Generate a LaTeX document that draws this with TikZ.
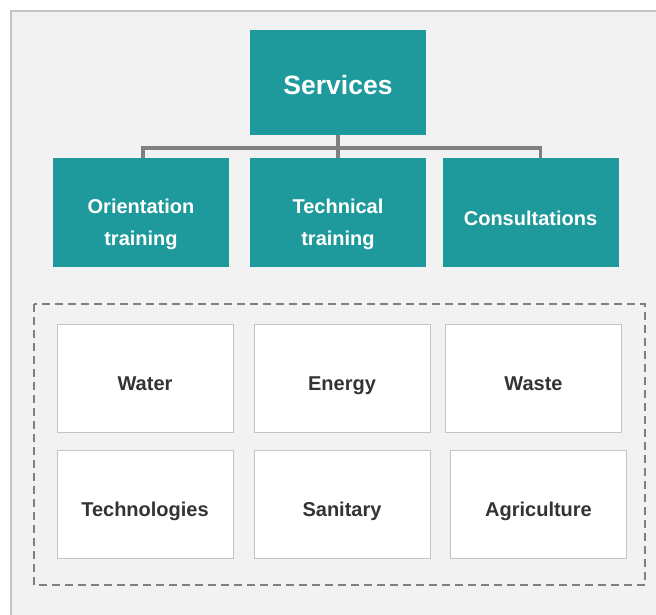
\documentclass[tikz,border=0pt]{standalone}
\usepackage{fontspec}
\setmainfont{Liberation Sans}
\usetikzlibrary{positioning}
\definecolor{teal}{RGB}{31,154,156}
\definecolor{panel}{RGB}{242,242,242}
\definecolor{rim}{RGB}{196,196,196}
\definecolor{wire}{RGB}{128,128,128}
\definecolor{ink}{RGB}{51,51,51}
\tikzset{
  head/.style={
    fill=teal,text=white,font=\bfseries\fontsize{26.5}{30}\selectfont,
    minimum width=176pt,minimum height=105pt,inner sep=0pt,
    text height=24pt,text depth=0pt
  },
  branch/.style={
    fill=teal,text=white,align=center,font=\bfseries\fontsize{20}{32}\selectfont,
    minimum width=176pt,minimum height=109pt,inner sep=0pt,
    text height=25pt,text depth=0pt
  },
  twoline/.style={text height=65pt},
  field/.style={
    fill=white,draw=rim,line width=1pt,text=ink,font=\bfseries\fontsize{20}{24}\selectfont,
    minimum width=176pt,minimum height=108pt,inner sep=0pt,
    text height=24pt,text depth=0pt
  },
  link/.style={draw=wire,line width=3.5pt}
}
\begin{document}
\begin{tikzpicture}[x=1pt,y=-1pt]
\useasboundingbox (0,0) rectangle (656,614);
\fill[white] (0,0) rectangle (656,614);
\draw[fill=panel,draw=rim,line width=1.5pt] (11,11) rectangle (664,624);

% services and its three branches
\node[head] (services) at (338,82.5) {Services};
\node[branch,twoline] (orient) at (141,212.5) {Orientation\\training};
\node[branch,twoline] (tech) at (338,212.5) {Technical\\training};
\node[branch] (consult) at (530.5,212.5) {Consultations};

\draw[link] ([xshift=2pt]orient.north) -- ++(0,-10) -| ([xshift=10pt]consult.north);
\draw[link] (services.south) -- (tech.north);

% fields of work
\draw[wire,line width=2pt,dash pattern=on 8pt off 5pt] (34,304) rectangle (645,585);
\node[field] (water) at (145,378) {Water};
\node[field] (energy) at (342,378) {Energy};
\node[field] (waste) at (533.5,378) {Waste};
\node[field] (techno) at (145,504.5) {Technologies};
\node[field] (sanitary) at (342,504.5) {Sanitary};
\node[field] (agri) at (538.5,504.5) {Agriculture};
\end{tikzpicture}
\end{document}
